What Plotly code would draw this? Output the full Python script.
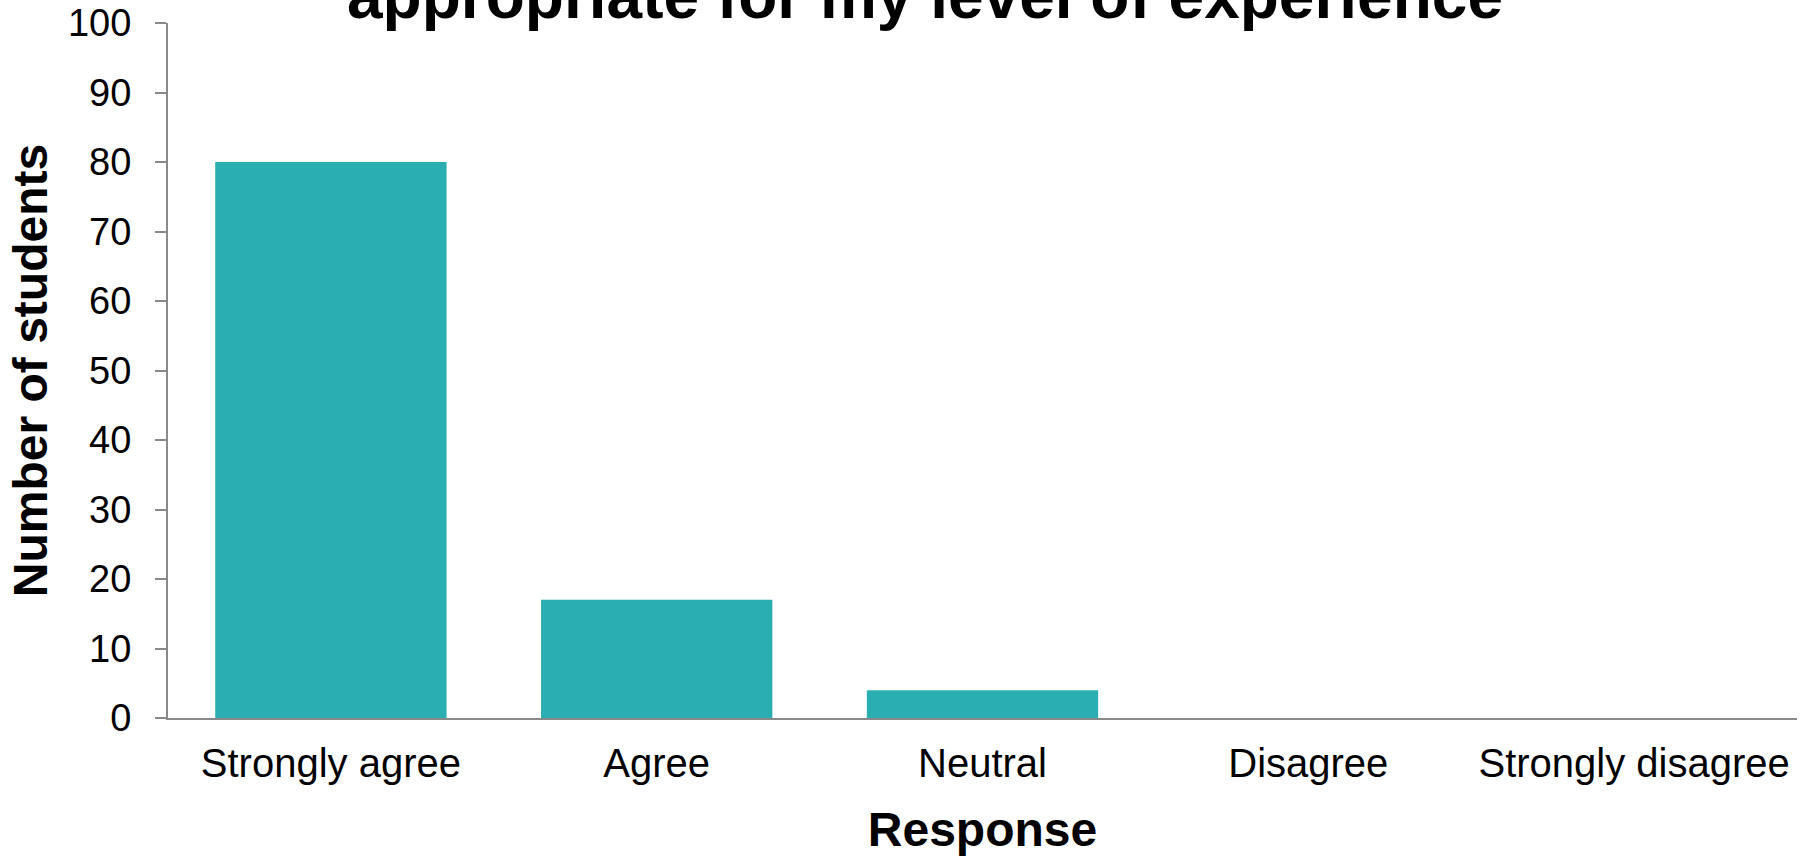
import plotly.graph_objects as go

# Survey responses
categories = ["Strongly agree", "Agree", "Neutral", "Disagree", "Strongly disagree"]
students = [80, 17, 4, 0, 0]
y_ticks = [0, 10, 20, 30, 40, 50, 60, 70, 80, 90, 100]

FONT = "Arial, 'Liberation Sans', sans-serif"
AXIS_GREY = "#898989"

fig = go.Figure(
    go.Bar(
        x=categories,
        y=students,
        marker=dict(color="#2AAEB2", line=dict(width=0)),
    )
)

fig.update_layout(
    width=1800,
    height=856,
    paper_bgcolor="white",
    plot_bgcolor="white",
    margin=dict(l=168, r=3, t=23, b=138),
    bargap=0.29,
    showlegend=False,
    font=dict(family=FONT, color="black"),
)

fig.update_xaxes(
    showline=True,
    linecolor=AXIS_GREY,
    linewidth=2,
    ticks="",
    showgrid=False,
    tickfont=dict(size=40, family=FONT, color="black"),
    ticklabelstandoff=9,
    title=dict(text="<b>Response</b>", font=dict(size=48, family=FONT, color="black"), standoff=28),
)

fig.update_yaxes(
    range=[0, 100],
    tickvals=y_ticks,
    showline=True,
    linecolor=AXIS_GREY,
    linewidth=2,
    ticks="outside",
    ticklen=11,
    tickwidth=2,
    tickcolor=AXIS_GREY,
    showgrid=False,
    zeroline=False,
    tickfont=dict(size=38, family=FONT, color="black"),
    ticklabelstandoff=16,
    title=dict(text="<b>Number of students</b>", font=dict(size=48, family=FONT, color="black"), standoff=5),
)

# Title line, partly above the top edge of the page
fig.add_annotation(
    text="<b>appropriate for my level of experience</b>",
    xref="paper", yref="paper",
    x=0.465, y=1.039,
    xanchor="center", yanchor="middle",
    showarrow=False,
    font=dict(size=64, family=FONT, color="black"),
)

fig.write_html("out.html")
